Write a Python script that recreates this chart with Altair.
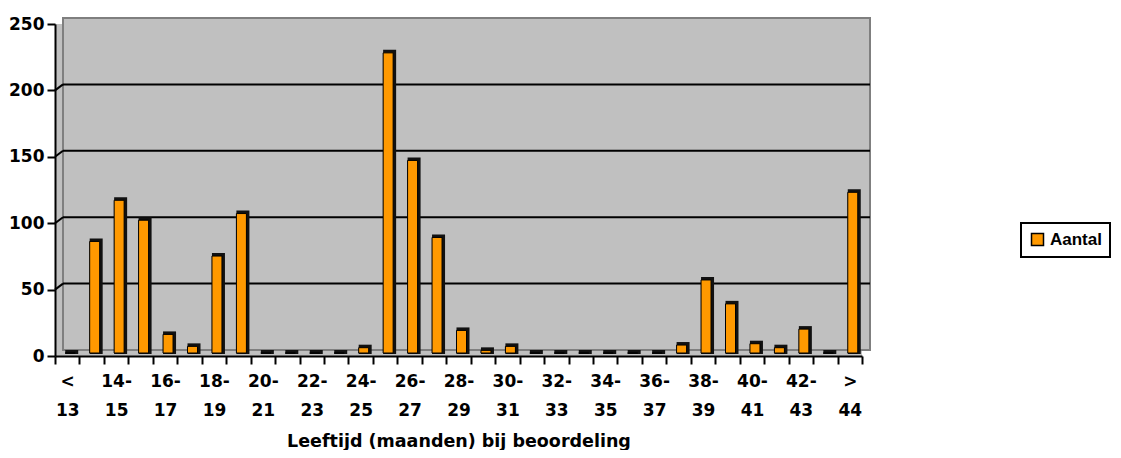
import altair as alt
import pandas as pd

categories = ["< 13", "13-14", "14-15", "15-16", "16-17", "17-18", "18-19", "19-20",
              "20-21", "21-22", "22-23", "23-24", "24-25", "25-26", "26-27", "27-28",
              "28-29", "29-30", "30-31", "31-32", "32-33", "33-34", "34-35", "35-36",
              "36-37", "37-38", "38-39", "39-40", "40-41", "41-42", "42-43", "43-44", "> 44"]
counts = [0, 84, 115, 100, 14, 5, 73, 105, 0, 0, 0, 0, 4, 226, 145, 87,
          17, 2, 5, 0, 0, 0, 0, 0, 0, 6, 55, 37, 7, 4, 18, 0, 121]
shown_labels = ["< 13", "14-15", "16-17", "18-19", "20-21", "22-23", "24-25", "26-27",
                "28-29", "30-31", "32-33", "34-35", "36-37", "38-39", "40-41", "42-43", "> 44"]
y_ticks = [0, 50, 100, 150, 200, 250]
grid_vals = [50, 100, 150, 200]
series_name = "Aantal"

df = pd.DataFrame({"cat": categories, "n": counts, "s": series_name})

W, H = 807, 332
FONT = "DejaVu Sans"

xscale = alt.Scale(paddingInner=0, paddingOuter=0)
yscale = alt.Scale(domain=[0, 250], nice=False)

label_list = "[" + ",".join("'" + s + "'" for s in shown_labels) + "]"
label_expr = (f"indexof({label_list}, datum.value) >= 0 ? "
              "split(replace(replace(datum.value, '-', '-|'), ' ', '|'), '|') : ''")

x_axis = alt.Axis(tickBand="extent", tickSize=8, tickWidth=2, tickColor="black",
                  domainColor="black", domainWidth=2, labelExpr=label_expr, labelAngle=0,
                  labelLineHeight=29, labelPadding=9, labelOverlap=False,
                  labelFont=FONT, labelFontWeight="bold", labelFontSize=17, labelColor="black",
                  title="Leeftijd (maanden) bij beoordeling", titleFont=FONT,
                  titleFontWeight="bold", titleFontSize=17.5, titleColor="black", titlePadding=14)
y_axis = alt.Axis(values=y_ticks, tickSize=8, tickWidth=2, tickColor="black",
                  domainColor="black", domainWidth=2, grid=False, labelPadding=3,
                  labelFont=FONT, labelFontWeight="bold", labelFontSize=17, labelColor="black",
                  title=None)

X = alt.X("cat:N", sort=categories, scale=xscale, axis=x_axis)
Y = alt.Y("n:Q", scale=yscale, axis=y_axis)

wall = alt.Chart(pd.DataFrame({"a": [0]})).mark_rect(
    fill="#C0C0C0", stroke="#7F7F7F", strokeWidth=2
).encode(x=alt.value(8), x2=alt.value(W + 8), y=alt.value(-6), y2=alt.value(H - 6))

gdf = pd.DataFrame({"v": grid_vals})
grid = alt.Chart(gdf).mark_rule(color="black", strokeWidth=2, yOffset=-6).encode(
    y=alt.Y("v:Q", scale=yscale, axis=y_axis), x=alt.value(8), x2=alt.value(W + 8))
slant = alt.Chart(gdf).mark_rule(color="black", strokeWidth=2, y2Offset=-6).encode(
    y=alt.Y("v:Q", scale=yscale, axis=y_axis), y2=alt.Y2("v:Q"), x=alt.value(0), x2=alt.value(8))

shadow = alt.Chart(df).mark_bar(color="#111111", size=13, xOffset=4.5, yOffset=-6,
                                y2Offset=-2).encode(x=X, y=Y, y2=alt.datum(0))
front = alt.Chart(df).mark_bar(size=10, xOffset=3, yOffset=-3, y2Offset=-3,
                               stroke="black", strokeWidth=1).encode(
    x=X, y=Y, y2=alt.datum(0),
    color=alt.Color("s:N", scale=alt.Scale(domain=[series_name], range=["#FF9900"]),
                    legend=alt.Legend(title=None, orient="none", legendX=966, legendY=199,
                                      strokeColor="black", padding=8, symbolType="square",
                                      symbolSize=144, symbolStrokeColor="black",
                                      symbolStrokeWidth=1.5, labelFont="Liberation Sans",
                                      labelFontWeight="bold", labelFontSize=17,
                                      labelColor="black", labelOffset=4)))

chart = alt.layer(wall, grid, slant, shadow, front).properties(
    width=W, height=H,
    autosize=alt.AutoSizeParams(type="none"),
    padding={"left": 47, "top": 16, "right": 251, "bottom": 94},
).configure_view(stroke=None, fill="#C0C0C0").configure_legend(strokeWidth=2)

chart.save("out.html", embed_options={"renderer": "svg", "actions": False})
